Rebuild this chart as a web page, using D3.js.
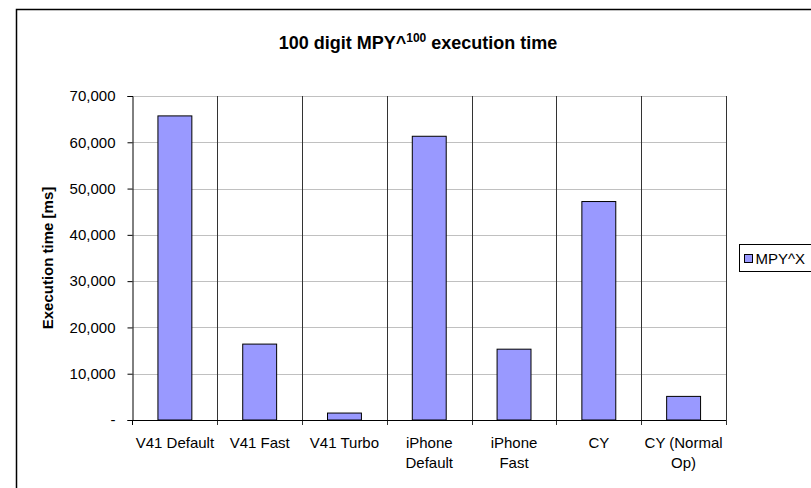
<!DOCTYPE html>
<html lang="en">
<head>
    <meta charset="UTF-8">
    <title>100 digit MPY^100 execution time</title>
    <style>
        body { margin: 0; background: #fff; }
        text { font-family: "Liberation Sans", Arial, sans-serif; fill: #000; }
    </style>
</head>
<body>
    <svg width="811" height="488"></svg>
    <script src="https://cdn.jsdelivr.net/npm/d3@7"></script>
    <script>
        var categories = ['V41 Default', 'V41 Fast', 'V41 Turbo', 'iPhone Default', 'iPhone Fast', 'CY', 'CY (Normal Op)']
        var values = [65700, 16400, 1500, 61300, 15300, 47200, 5100]
        var yTicks = [0, 10000, 20000, 30000, 40000, 50000, 60000, 70000]
        var seriesName = 'MPY^X'

        var svg = d3.select('svg')
        var plotL = 132.5, plotR = 726, plotT = 96, plotB = 420

        // outer chart border
        svg.append('rect')
            .attr('x', 16.5).attr('y', 9.5)
            .attr('width', 820).attr('height', 500)
            .attr('fill', 'none')
            .attr('stroke', '#000')
            .attr('stroke-width', 1.5)

        var x = d3.scaleBand()
            .domain(categories)
            .range([plotL, plotR])
            .paddingInner(0.6)
            .paddingOuter(0.3)

        var y = d3.scaleLinear()
            .domain([0, 70000])
            .range([plotB, plotT])

        // horizontal gridlines
        svg.append('g')
            .selectAll('line')
            .data(yTicks.slice(1))
            .enter()
            .append('line')
            .attr('x1', plotL).attr('x2', plotR)
            .attr('y1', d => Math.round(y(d)) + 0.5)
            .attr('y2', d => Math.round(y(d)) + 0.5)
            .attr('stroke', '#c0c0c0')

        // vertical lines between categories
        var step = x.step()
        var bounds = categories.map((c, i) => plotL + step * (i + 1))
        svg.append('g')
            .selectAll('line')
            .data(bounds)
            .enter()
            .append('line')
            .attr('x1', d => Math.round(d) + 0.5)
            .attr('x2', d => Math.round(d) + 0.5)
            .attr('y1', plotT).attr('y2', plotB + 5)
            .attr('stroke', '#333')

        // bars
        svg.append('g')
            .selectAll('rect')
            .data(values)
            .enter()
            .append('rect')
            .attr('x', (d, i) => x(categories[i]))
            .attr('y', d => y(d))
            .attr('width', x.bandwidth())
            .attr('height', d => plotB - y(d))
            .attr('fill', '#9999ff')
            .attr('stroke', '#000')
            .attr('stroke-width', 1)

        // y axis
        var yAxis = d3.axisLeft(y)
            .tickValues(yTicks)
            .tickSize(5)
            .tickPadding(12)
            .tickFormat(d => d === 0 ? '-' : d3.format(',')(d))
        var gy = svg.append('g')
            .attr('transform', 'translate(' + plotL + ',0)')
            .call(yAxis)
        gy.select('.domain').attr('stroke', '#000')
        gy.selectAll('.tick line').attr('stroke', '#000')
        gy.selectAll('.tick text')
            .style('font-family', '"Liberation Sans", Arial, sans-serif')
            .style('font-size', '15px')
            .attr('fill', '#000')

        // x axis line
        svg.append('line')
            .attr('x1', plotL).attr('x2', plotR)
            .attr('y1', plotB + 0.5).attr('y2', plotB + 0.5)
            .attr('stroke', '#000')
        svg.append('line')
            .attr('x1', plotL).attr('x2', plotL)
            .attr('y1', plotB).attr('y2', plotB + 5)
            .attr('stroke', '#000')

        // x labels, wrapped to the category width
        var xl = svg.append('g')
        categories.forEach(function (c, i) {
            var cx = x(c) + x.bandwidth() / 2
            var t = xl.append('text')
                .attr('x', cx).attr('y', 448)
                .attr('text-anchor', 'middle')
                .style('font-size', '15px')
            var words = c.split(' ')
            var line = []
            var lineNo = 0
            var ts = t.append('tspan').attr('x', cx).attr('y', 448)
            words.forEach(function (w) {
                line.push(w)
                ts.text(line.join(' '))
                if (ts.node().getComputedTextLength() > 79 && line.length > 1) {
                    line.pop()
                    ts.text(line.join(' '))
                    line = [w]
                    lineNo++
                    ts = t.append('tspan').attr('x', cx).attr('y', 448 + lineNo * 20).text(w)
                }
            })
        })

        // title
        var title = svg.append('text')
            .attr('x', 418).attr('y', 49)
            .attr('text-anchor', 'middle')
            .style('font-size', '18px')
            .style('font-weight', 'bold')
        title.append('tspan').text('100 digit MPY^')
        title.append('tspan').attr('dy', -7).style('font-size', '12px').text('100')
        title.append('tspan').attr('dy', 7).text(' execution time')

        // y title
        svg.append('text')
            .attr('transform', 'translate(53,' + ((plotT + plotB) / 2) + ') rotate(-90)')
            .attr('text-anchor', 'middle')
            .style('font-size', '15px')
            .style('font-weight', 'bold')
            .text('Execution time [ms]')

        // legend
        var lg = svg.append('g').attr('transform', 'translate(739.5,244.5)')
        lg.append('rect')
            .attr('width', 75).attr('height', 27)
            .attr('fill', '#fff').attr('stroke', '#000')
        lg.append('rect')
            .attr('x', 5).attr('y', 10)
            .attr('width', 8).attr('height', 8)
            .attr('fill', '#9999ff').attr('stroke', '#000')
        lg.append('text')
            .attr('x', 16).attr('y', 19)
            .style('font-size', '15px')
            .text(seriesName)
    </script>
</body>
</html>
